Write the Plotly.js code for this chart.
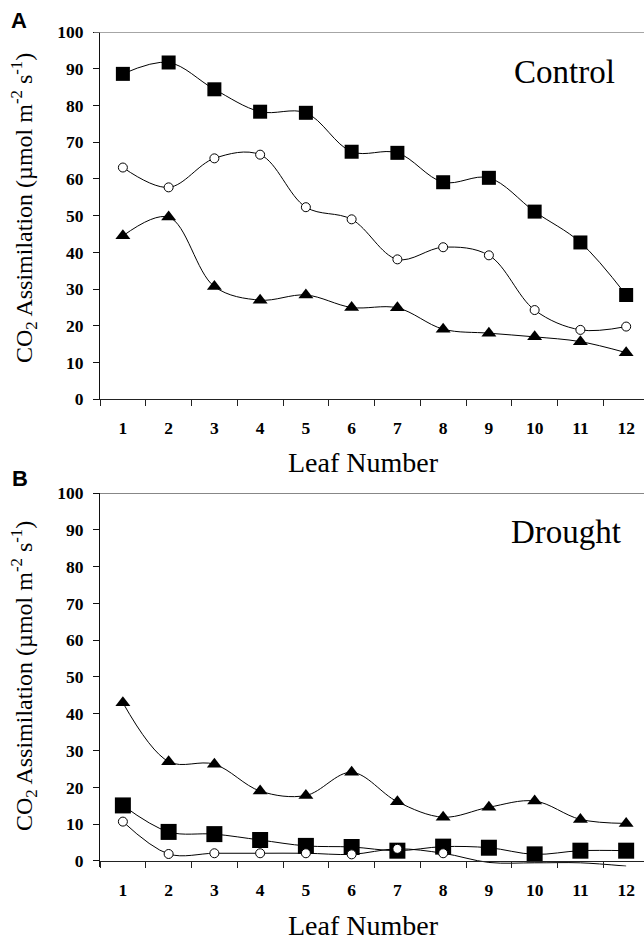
<!DOCTYPE html>
<html>
<head>
<meta charset="utf-8">
<script src="https://cdn.plot.ly/plotly-3.0.1.min.js"></script>
<style>
  html, body { margin: 0; padding: 0; background: #fff; }
  #chart { width: 644px; height: 941px; }
</style>
</head>
<body>
<div id="chart"></div>
<script>
// Leaf positions along the stem
const leaves = ['1','2','3','4','5','6','7','8','9','10','11','12'];

// Control plants (panel A), CO2 assimilation in µmol m-2 s-1
const controlSquare   = [88.6, 91.7, 84.4, 78.3, 78.0, 67.4, 67.1, 59.1, 60.3, 51.1, 42.7, 28.4];
const controlCircle   = [63.1, 57.7, 65.6, 66.6, 52.3, 49.0, 38.1, 41.4, 39.2, 24.3, 18.9, 19.8];
const controlTriangle = [44.5, 49.6, 30.7, 27.0, 28.4, 25.0, 24.9, 19.1, 18.0, 17.0, 15.7, 12.7];

// Drought plants (panel B)
const droughtSquare   = [15.1, 7.9, 7.3, 5.7, 4.1, 3.8, 2.8, 3.9, 3.6, 1.8, 2.8, 2.8];
const droughtCircle   = [10.7, 1.9, 2.1, 2.1, 2.1, 1.8, 3.3, 2.1, -0.4, -0.5, -0.5, -1.4];
const droughtCircleShown = [1, 1, 1, 1, 1, 1, 1, 1, 0, 0, 0, 0];
const droughtTriangle = [43.0, 27.0, 26.3, 19.0, 17.8, 24.1, 16.1, 11.9, 14.6, 16.3, 11.3, 10.2];

const yTicks = [0,10,20,30,40,50,60,70,80,90,100];

const serif = 'Liberation Serif, Times New Roman, serif';
const W = 644, H = 941;
const px = v => v / W;          // horizontal pixel -> paper fraction
const py = v => (H - v) / H;    // vertical pixel -> paper fraction

const lineStyle = {color: '#000', width: 1, shape: 'spline', smoothing: 1};

function squareTrace(y, xa, ya, size) {
  return {x: leaves, y: y, xaxis: xa, yaxis: ya, type: 'scatter', mode: 'lines+markers',
    line: lineStyle, marker: {symbol: 'square', size: size, color: '#000'}, cliponaxis: false};
}
function circleTrace(y, xa, ya, opacity) {
  return {x: leaves, y: y, xaxis: xa, yaxis: ya, type: 'scatter', mode: 'lines+markers',
    line: lineStyle, cliponaxis: false,
    marker: {symbol: 'circle', size: 9, color: '#fff', line: {color: '#000', width: 1},
             opacity: opacity || 1}};
}
function triangleTrace(y, xa, ya, size) {
  return {x: leaves, y: y, xaxis: xa, yaxis: ya, type: 'scatter', mode: 'lines+markers',
    line: lineStyle, marker: {symbol: 'triangle-up', size: size, color: '#000'}, cliponaxis: false};
}

const data = [
  squareTrace(controlSquare, 'x', 'y', 14),
  triangleTrace(controlTriangle, 'x', 'y', 13),
  circleTrace(controlCircle, 'x', 'y'),
  squareTrace(droughtSquare, 'x2', 'y2', 16),
  triangleTrace(droughtTriangle, 'x2', 'y2', 13),
  circleTrace(droughtCircle, 'x2', 'y2', droughtCircleShown)
];

const tickFont = {family: serif, size: 17.5, color: '#000'};

function xAxis(extra) {
  return Object.assign({
    type: 'category', categoryorder: 'array', categoryarray: leaves,
    tickmode: 'array', tickvals: leaves, ticktext: leaves.map(s => '<b>' + s + '</b>'),
    domain: [px(100), 1], range: [-0.5, 11.39],
    showline: true, linecolor: '#222', linewidth: 1,
    ticks: 'outside', tickson: 'boundaries', ticklen: 6, tickwidth: 1, tickcolor: '#222',
    showgrid: false, zeroline: false, tickfont: tickFont, ticklabelstandoff: 13,
    fixedrange: true
  }, extra);
}
function yAxis(extra) {
  return Object.assign({
    tickmode: 'array', tickvals: yTicks, ticktext: yTicks.map(v => '<b>' + v + '</b>'),
    showline: true, linecolor: '#111', linewidth: 1,
    ticks: 'outside', ticklen: 6, tickwidth: 1, tickcolor: '#111',
    showgrid: false, zeroline: false, tickfont: tickFont, ticklabelstandoff: 6,
    fixedrange: true
  }, extra);
}

const yTitle = 'CO<sub>2</sub> Assimilation (µmol m<sup>-2</sup> s<sup>-1</sup>)';

const layout = {
  width: W, height: H,
  margin: {l: 0, r: 0, t: 0, b: 0},
  paper_bgcolor: '#fff', plot_bgcolor: '#fff',
  showlegend: false,
  xaxis: xAxis({anchor: 'y'}),
  yaxis: yAxis({anchor: 'x', domain: [py(399.3), py(32)], range: [0, 100]}),
  xaxis2: xAxis({anchor: 'free', position: py(861)}),
  yaxis2: yAxis({anchor: 'x2', domain: [py(866.5), py(493)], range: [-1.5, 100]}),
  shapes: [
    {type: 'line', xref: 'paper', yref: 'y', x0: px(94), x1: 1, y0: 100, y1: 100,
     line: {color: '#888', width: 1.5}},
    {type: 'line', xref: 'paper', yref: 'y2', x0: px(94), x1: 1, y0: 100, y1: 100,
     line: {color: '#111', width: 1}}
  ],
  annotations: [
    {text: '<b>A</b>', xref: 'paper', yref: 'paper', x: px(19), y: py(20),
     xanchor: 'center', yanchor: 'middle', showarrow: false,
     font: {family: 'Liberation Sans, Arial, sans-serif', size: 22, color: '#000'}},
    {text: '<b>B</b>', xref: 'paper', yref: 'paper', x: px(20), y: py(478),
     xanchor: 'center', yanchor: 'middle', showarrow: false,
     font: {family: 'Liberation Sans, Arial, sans-serif', size: 22, color: '#000'}},
    {text: 'Control', xref: 'paper', yref: 'paper', x: px(564), y: py(72),
     xanchor: 'center', yanchor: 'middle', showarrow: false,
     font: {family: serif, size: 33, color: '#000'}},
    {text: 'Drought', xref: 'paper', yref: 'paper', x: px(566), y: py(532),
     xanchor: 'center', yanchor: 'middle', showarrow: false,
     font: {family: serif, size: 33, color: '#000'}},
    {text: 'Leaf Number', xref: 'paper', yref: 'paper', x: px(363), y: py(463),
     xanchor: 'center', yanchor: 'middle', showarrow: false,
     font: {family: serif, size: 28, color: '#000'}},
    {text: 'Leaf Number', xref: 'paper', yref: 'paper', x: px(363), y: py(925),
     xanchor: 'center', yanchor: 'middle', showarrow: false,
     font: {family: serif, size: 28, color: '#000'}},
    {text: yTitle, xref: 'paper', yref: 'paper', x: px(24), y: py(208), textangle: -90,
     xanchor: 'center', yanchor: 'middle', showarrow: false,
     font: {family: serif, size: 24, color: '#000'}},
    {text: yTitle, xref: 'paper', yref: 'paper', x: px(24), y: py(676), textangle: -90,
     xanchor: 'center', yanchor: 'middle', showarrow: false,
     font: {family: serif, size: 24, color: '#000'}}
  ]
};

Plotly.newPlot('chart', data, layout, {staticPlot: true, displayModeBar: false});
</script>
</body>
</html>
